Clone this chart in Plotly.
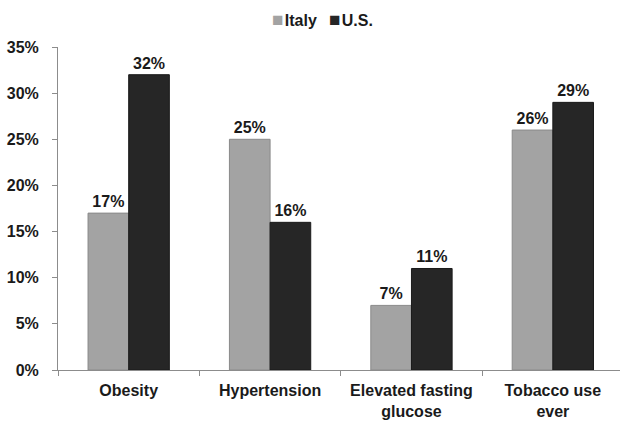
import plotly.graph_objects as go

categories = ["Obesity", "Hypertension", "Elevated fasting<br>glucose", "Tobacco use<br>ever"]
italy = [17, 25, 7, 26]
us = [32, 16, 11, 29]
y_ticks = [0, 5, 10, 15, 20, 25, 30, 35]
y_tick_labels = [f"{v}%" for v in y_ticks]

ITALY_COLOR = "#a3a3a3"
US_COLOR = "#262626"
FONT = "Liberation Sans, Arial, sans-serif"
font_b = dict(family=FONT, size=16, color="#1a1a1a", weight="bold")

fig = go.Figure()
fig.add_trace(go.Bar(
    name="Italy", x=categories, y=italy,
    marker=dict(color=ITALY_COLOR, line=dict(color="#8a8a8a", width=1)),
    text=[f"{v}%" for v in italy], textposition="outside",
    textfont=font_b, cliponaxis=False,
))
fig.add_trace(go.Bar(
    name="U.S.", x=categories, y=us,
    marker=dict(color=US_COLOR, line=dict(color="#1a1a1a", width=1)),
    text=[f"{v}%" for v in us], textposition="outside",
    textfont=font_b, cliponaxis=False,
))

# compact legend: small squares hugging the series names
sq = "<span style='color:{};font-size:19px'>■</span>"
legend_text = (
    sq.format(ITALY_COLOR) + "&#8202;Italy&nbsp;&nbsp;&#8201;"
    + sq.format(US_COLOR) + "&#8202;U.S."
)
fig.add_annotation(
    text=legend_text, xref="paper", yref="paper",
    x=(322 - 58) / 562, y=1.0, yshift=28, showarrow=False,
    xanchor="center", yanchor="middle", font=font_b,
)

fig.update_layout(
    width=620, height=421,
    margin=dict(l=58, r=0, t=47, b=51),
    paper_bgcolor="white", plot_bgcolor="white",
    barmode="group", bargap=0.425, bargroupgap=0,
    font=font_b, showlegend=False,
    uniformtext=dict(mode=False),
)

fig.update_xaxes(
    range=[-0.5, 3.475], showline=True, linecolor="#8c8c8c", linewidth=1,
    ticks="outside", tickson="boundaries", ticklen=5, tickcolor="#8c8c8c",
    tickfont=font_b, showgrid=False, zeroline=False, ticklabelstandoff=6,
)
fig.update_yaxes(
    range=[0, 35], tickvals=y_ticks, ticktext=y_tick_labels,
    showline=True, linecolor="#8c8c8c", linewidth=1,
    ticks="outside", ticklen=5, tickcolor="#8c8c8c",
    tickfont=font_b, showgrid=False, zeroline=False, ticklabelstandoff=10,
)

fig.write_html("out.html")
